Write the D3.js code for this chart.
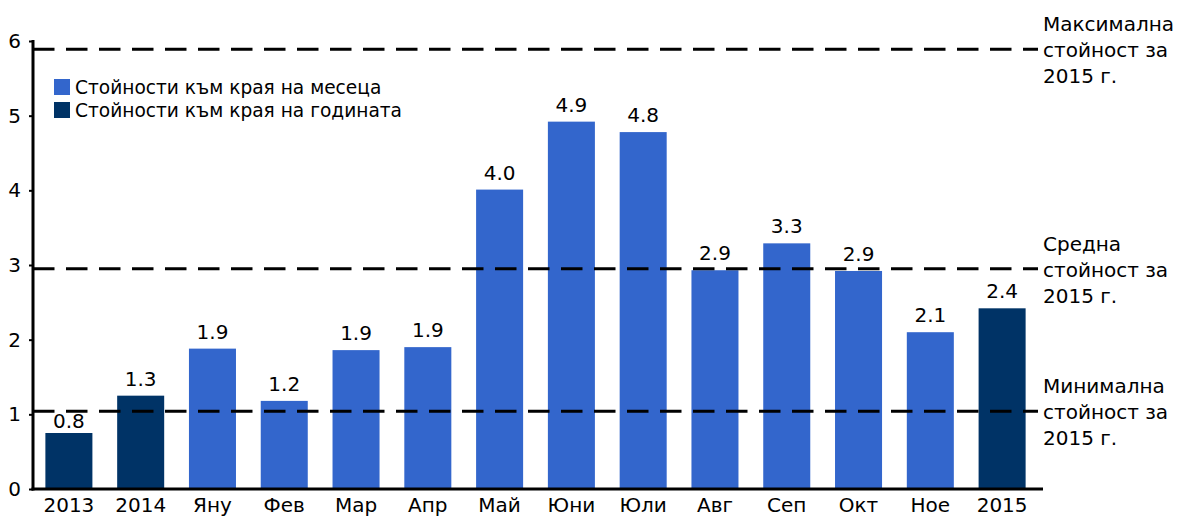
<!DOCTYPE html>
<html>
<head>
<meta charset="utf-8">
<script src="https://cdn.jsdelivr.net/npm/d3@7"></script>
<style>
  body { margin: 0; background: #fff; }
  text { font-family: Verdana, "DejaVu Sans", sans-serif; fill: #000; }
</style>
</head>
<body>
<div id="chart"></div>
<script>
// data
var categories = ["2013", "2014", "Яну", "Фев", "Мар", "Апр", "Май", "Юни", "Юли", "Авг", "Сеп", "Окт", "Ное", "2015"];
var values = [0.75, 1.25, 1.88, 1.18, 1.86, 1.90, 4.01, 4.92, 4.78, 2.93, 3.29, 2.92, 2.10, 2.42];
var labels = ["0.8", "1.3", "1.9", "1.2", "1.9", "1.9", "4.0", "4.9", "4.8", "2.9", "3.3", "2.9", "2.1", "2.4"];
var seriesType = ["year", "year", "month", "month", "month", "month", "month", "month", "month", "month", "month", "month", "month", "year"];
var legendNames = ["Стойности към края на месеца", "Стойности към края на годината"];
var refValues = [5.89, 2.95, 1.04];
var refLabels = [
    ["Максимална", "стойност за", "2015 г."],
    ["Средна", "стойност за", "2015 г."],
    ["Минимална", "стойност за", "2015 г."]
];
var yTicks = [0, 1, 2, 3, 4, 5, 6];

// margins and size
var m = {left: 33, right: 142, top: 41, bottom: 29};
var W = 1180, H = 518;
var w = W - m.left - m.right;
var h = H - m.top - m.bottom;

var svg = d3.select("#chart")
    .append("svg")
    .attr("width", W)
    .attr("height", H)
    .append("g")
    .attr("transform", "translate(" + m.left + "," + m.top + ")");

var x = d3.scaleBand().domain(categories).range([0, w]).paddingInner(0.345).paddingOuter(0.1725);
var y = d3.scaleLinear().domain([0, 6]).range([h, 0]);
var color = d3.scaleOrdinal().domain(["month", "year"]).range(["#3366cc", "#003366"]);

// bars
svg.selectAll(".bar")
    .data(values)
    .enter()
    .append("rect")
    .attr("class", "bar")
    .attr("x", function(d, i) { return x(categories[i]) })
    .attr("y", function(d) { return y(d) })
    .attr("width", x.bandwidth())
    .attr("height", function(d) { return h - y(d) })
    .style("fill", function(d, i) { return color(seriesType[i]) });

// reference lines
svg.selectAll(".ref")
    .data(refValues)
    .enter()
    .append("line")
    .attr("class", "ref")
    .attr("x1", 0)
    .attr("x2", w)
    .attr("y1", function(d) { return y(d) })
    .attr("y2", function(d) { return y(d) })
    .style("stroke", "#000")
    .style("stroke-width", 3)
    .style("stroke-dasharray", "21.5,11.5");

// value labels, pushed under a reference line if they would cross it
svg.selectAll(".val")
    .data(values)
    .enter()
    .append("text")
    .attr("class", "val")
    .attr("text-anchor", "middle")
    .style("font-size", "20px")
    .attr("x", function(d, i) { return x(categories[i]) + x.bandwidth() / 2 })
    .attr("y", function(d) {
        var base = y(d) - 10;
        refValues.forEach(function(r) {
            var ly = y(r);
            if (ly > base - 15 && ly < base + 3) base = ly + 17;
        });
        return base;
    })
    .text(function(d, i) { return labels[i] });

// y axis
var yAxis = svg.append("g")
    .call(d3.axisLeft(y).tickValues(yTicks).tickSize(4).tickPadding(8).tickFormat(d3.format("d")));
yAxis.select(".domain").remove();
yAxis.selectAll(".tick line").style("stroke", "#000").style("stroke-width", 2);
yAxis.selectAll("text").style("font-size", "20px");
svg.append("line")
    .attr("x1", 0).attr("x2", 0)
    .attr("y1", y(6) - 1).attr("y2", h + 1.5)
    .style("stroke", "#000").style("stroke-width", 3);

// x axis
var xAxis = svg.append("g")
    .attr("transform", "translate(0," + h + ")")
    .call(d3.axisBottom(x).tickSize(0).tickPadding(9));
xAxis.select(".domain").remove();
xAxis.selectAll("text").style("font-size", "20px");
svg.append("line")
    .attr("x1", -1.5).attr("x2", w + 5)
    .attr("y1", h).attr("y2", h)
    .style("stroke", "#000").style("stroke-width", 3);

// legend
var legend = svg.append("g")
    .attr("transform", "translate(21,38)");
var li = legend.selectAll(".li")
    .data(legendNames)
    .enter()
    .append("g")
    .attr("transform", function(d, i) { return "translate(0," + (i * 23) + ")" });
li.append("rect")
    .attr("width", 16).attr("height", 16)
    .style("fill", function(d, i) { return color.range()[i] });
li.append("text")
    .attr("x", 21).attr("y", 15)
    .style("font-size", "18.6px")
    .text(function(d) { return d });

// reference annotations
var ann = svg.selectAll(".ann")
    .data(refValues)
    .enter()
    .append("text")
    .attr("class", "ann")
    .style("font-size", "20px")
    .attr("transform", function(d) { return "translate(" + (w + 5) + "," + (y(d) + 8) + ")" });
ann.selectAll("tspan")
    .data(function(d, i) { return refLabels[i] })
    .enter()
    .append("tspan")
    .attr("x", 0)
    .attr("y", function(d, j) { return (j - 1) * 26 })
    .text(function(d) { return d });
</script>
</body>
</html>
